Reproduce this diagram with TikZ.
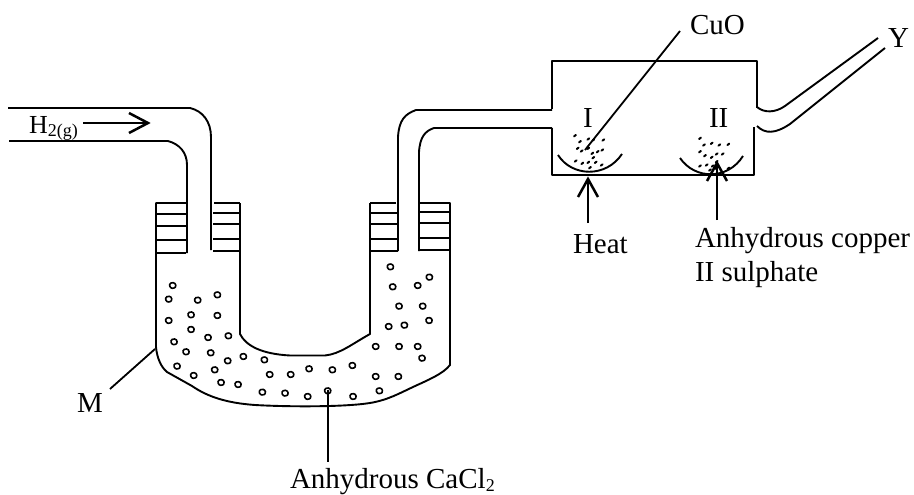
\documentclass[tikz,border=0pt]{standalone}
\usepackage{fontspec}
\setmainfont{Liberation Serif}
\tikzset{
  wall/.style={draw=black,line width=1.9pt,line join=round},
  arrowline/.style={draw=black,line width=2.5pt,line join=miter},
  thinline/.style={draw=black,line width=1.8pt},
  lab/.style={anchor=base west,inner sep=0pt,outer sep=0pt,font=\fontsize{29}{32}\selectfont,text=black},
  bub/.style={draw=black,line width=1.6pt,rounded corners=1.2pt},
  speck/.style={draw=black,line width=2pt,line cap=round}
}
\newcommand{\subtxt}[1]{\raisebox{-3pt}{\fontsize{18}{20}\selectfont #1}}
\begin{document}
\begin{tikzpicture}[x=1pt,y=-1pt]
\useasboundingbox (0,0) rectangle (914,495);
% inlet tube
\draw[wall] (8,108) -- (190,108) .. controls (203,111) and (211,122) .. (211,137) -- (211,250);
\draw[wall] (9,141) -- (168,141) .. controls (179,144) and (187,152) .. (187,165) -- (187,253);
% U tube
\draw[wall] (186,203) -- (156,203) -- (156,347) .. controls (157,358) and (161,367) .. (167,372)
  -- (192,386) .. controls (208,397) and (227,403) .. (255,405) .. controls (290,407) and (345,407) .. (370,403)
  .. controls (388,400) and (400,393) .. (413,387) .. controls (428,380) and (443,374) .. (450,365) -- (450,203) -- (420,203);
\draw[wall] (240,203) -- (240,334) .. controls (246,346) and (262,354) .. (290,355.5)
  -- (325,355.5) .. controls (340,354) and (352,344) .. (370,334) -- (370,203);
\draw[wall] (240,203) -- (214,203);
\draw[wall] (370,203) -- (396,203);
% stoppers
\foreach \y in {214,226,240,253} \draw[wall] (156,\y) -- (186,\y);
\foreach \y in {213,224,239,251} \draw[wall] (213,\y) -- (240,\y);
\foreach \y in {213,224,239,251} \draw[wall] (370,\y) -- (398,\y);
\foreach \y in {212,223,238,250} \draw[wall] (420,\y) -- (450,\y);
% middle tube
\draw[wall] (398,251) -- (398,137) .. controls (399,120) and (405,114) .. (416,110) -- (552,110);
\draw[wall] (419,251) -- (419,152) .. controls (420,137) and (425,131) .. (434,128) -- (552,128);
% chamber
\draw[wall] (552,109) -- (552,61) -- (757,61) -- (757,108);
\draw[wall] (552,128) -- (552,175) -- (754,175) -- (754,127);
% outlet
\draw[wall] (757,107) .. controls (764,113) and (775,113) .. (785,106) -- (878,38);
\draw[wall] (757,126) .. controls (765,134) and (775,134) .. (790,124) -- (885,48);
% dishes
\draw[wall] (558,155) .. controls (572,177) and (606,178) .. (622,154);
\draw[wall] (680,158) .. controls (695,180) and (728,180) .. (743,156);
% specks
\foreach \a/\b in {30/32,45/50,70/42,85/45,115/45,38/70,50/78,70/70,82/85,98/80,112/75,32/108,52/115,70/112,85/98,75/128,110/120,92/112}{
  \draw[speck] ({565+\a/3-0.9},{125+\b/3+0.7}) -- ({565+\a/3+0.9},{125+\b/3-0.7});
}
\foreach \a/\b in {30/25,42/45,65/40,88/45,115/43,30/65,45/77,65/82,80/72,98/72,30/108,50/105,68/108,80/95,60/120,115/115,80/115}{
  \draw[speck] ({690+\a/3-0.9},{130+\b/3+0.7}) -- ({690+\a/3+0.9},{130+\b/3-0.7});
}
% bubbles
\foreach \a/\b in {128/77,116/118,203/121,262/105,116/182,183/165,262/167,183/209,234/233,295/228,132/246,168/276,242/279,293/303,340/290,403/300,141/319,191/347,254/330,273/368,324/374,419/344,482/344,537/327,607/330,667/317,397/397,465/400,533/410,593/393,669/410,737/350,805/350,748/393,737/260,807/260,863/260,876/295,776/200,823/196,897/182,807/139,878/139,788/81,863/77,898/52,781/21}{
  \draw[bub,shift={({130+\a/3},{260+\b/3})}] (-3,-2.4) -- (1.8,-3.2) -- (3.6,0.6) -- (0.9,3) -- (-2.8,1.8) -- cycle;
}
% arrows
\draw[arrowline] (83,123) -- (147,123);
\draw[arrowline] (129,113) -- (148,123) -- (129,133);
\draw[arrowline] (588,223) -- (588,179);
\draw[arrowline] (578,197) -- (588,179) -- (598,197);
\draw[arrowline] (717,220) -- (717,163);
\draw[arrowline] (707,181) -- (717,163) -- (727,181);
% leader lines
\coordinate (cuoA) at (680,31);
\coordinate (cuoB) at (585,150);
\draw[thinline] (cuoA) -- (cuoB);
\coordinate (mA) at (110,389);
\coordinate (mB) at (155,349);
\draw[thinline] (mA) -- (mB);
\coordinate (caA) at (328,390);
\coordinate (caB) at (328,462);
\draw[thinline] (caA) -- (caB);
% labels
\node[lab,font=\fontsize{26}{30}\selectfont] (h2) at (29,133) {H\subtxt{2(g)}};
\node[lab] (cuo) at (690,35) {CuO};
\node[lab] (y) at (888,48) {Y};
\node[lab] (one) at (583,128) {I};
\node[lab] (two) at (709,128) {II};
\node[lab] (heat) at (573,253) {Heat};
\node[lab] (cu1) at (695,247) {Anhydrous copper};
\node[lab] (cu2) at (695,281) {II sulphate};
\node[lab] (m) at (77,412) {M};
\node[lab] (ca) at (290,488.5) {Anhydrous CaCl\subtxt{2}};
\end{tikzpicture}
\end{document}
